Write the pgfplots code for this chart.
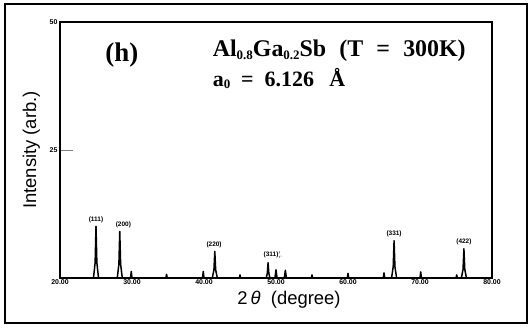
\documentclass[border=0pt]{standalone}
\usepackage{fontspec}
\setmainfont{Liberation Serif}
\setsansfont{Liberation Sans}
\usepackage{pgfplots}
\pgfplotsset{compat=1.18}
\newcommand{\sub}[1]{\raisebox{-0.2ex}{\fontsize{13}{13}\selectfont #1}}
\begin{document}
\begin{tikzpicture}
\begin{axis}[name=ax,
  scale only axis, width=432bp, height=256bp,
  xmin=20, xmax=80, ymin=0, ymax=50,
  axis line style={line width=1.3pt},
  xtick={20,30,40,50,60,70,80},
  xticklabels={20.00,30.00,40.00,50.00,60.00,70.00,80.00},
  ytick={25,50},
  ytick pos=left,
  x tick label style={font=\sffamily\bfseries\fontsize{7}{7}\selectfont, yshift=2pt},
  y tick label style={font=\sffamily\bfseries\fontsize{7}{7}\selectfont, xshift=1pt},
  /pgf/number format/assume math mode=true,
  xtick style={draw=none},
  ytick style={line width=1pt},
  major tick length=13bp,
  tick align=inside,
  xlabel={2\,\textit{θ}\ \ (degree)},
  ylabel={Intensity (arb.)},
  label style={font=\sffamily\fontsize{18.5}{20}\selectfont},
  xlabel style={at={(rel axis cs:0.53,0)}, anchor=north, yshift=-10bp},
  ylabel style={at={(axis description cs:-0.038,0.5)}, anchor=south},
  clip=false,
]
\addplot[black, line width=1.5pt, line join=round] coordinates {
(20,0)
(24.65,0)(24.88,3)(25.0,10.1)(25.12,3)(25.35,0)
(27.95,0)(28.18,2.7)(28.3,9.1)(28.42,2.7)(28.65,0)
(29.8,0)(29.9,1.3)(30.0,0)
(34.7,0)(34.8,0.7)(34.9,0)
(39.8,0)(39.9,1.3)(40.0,0)
(41.15,0)(41.38,1.6)(41.5,5.2)(41.62,1.6)(41.85,0)
(44.9,0)(45.0,0.6)(45.1,0)
(48.65,0)(48.8,1)(48.9,3.0)(49.0,1)(49.15,0)
(49.85,0)(50.0,1.6)(50.15,0)
(51.15,0)(51.3,1.5)(51.45,0)
(54.9,0)(55.0,0.6)(55.1,0)
(59.9,0)(60.0,0.9)(60.1,0)
(64.9,0)(65.0,1.0)(65.1,0)
(66.05,0)(66.28,2.2)(66.4,7.3)(66.52,2.2)(66.75,0)
(70.0,0)(70.1,1.2)(70.2,0)
(75.0,0)(75.1,0.6)(75.2,0)
(75.75,0)(75.98,1.7)(76.1,5.7)(76.22,1.7)(76.45,0)
(80,0)
};
\begin{scope}[every node/.style={font=\sffamily\bfseries\fontsize{6.5}{6.5}\selectfont, anchor=south, inner sep=1pt}]
\node at (axis cs:25.0,10.6) {(111)};
\node at (axis cs:28.8,9.6) {(200)};
\node at (axis cs:41.4,5.7) {(220)};
\node at (axis cs:49.6,3.5) {(311)$^{\prime}_{r}$};
\node at (axis cs:66.4,7.9) {(331)};
\node at (axis cs:76.1,6.2) {(422)};
\end{scope}
\node[anchor=base, font=\bfseries\fontsize{27}{27}\selectfont] at (axis cs:28.6,42.2) {(h)};
\node[anchor=base west, inner sep=0pt, font=\bfseries\fontsize{24}{24}\selectfont] at (axis cs:41.2,43.2) {Al\sub{0.8}Ga\sub{0.2}Sb\hspace{0.55em}(T\hspace{0.55em}=\hspace{0.55em}300K)};
\node[anchor=base west, inner sep=0pt, font=\bfseries\fontsize{22}{22}\selectfont] at (axis cs:41.2,37.5) {a\sub{0}\hspace{0.5em}=\hspace{0.5em}6.126\hspace{0.7em}Å};
\end{axis}
\draw[line width=1.3pt] ([shift={(-55bp,-45bp)}]ax.south west) rectangle ++(522bp,319bp);
\pgfresetboundingbox
\path[use as bounding box] ([shift={(-60bp,-50bp)}]ax.south west) rectangle ++(531bp,328bp);
\end{tikzpicture}
\end{document}
